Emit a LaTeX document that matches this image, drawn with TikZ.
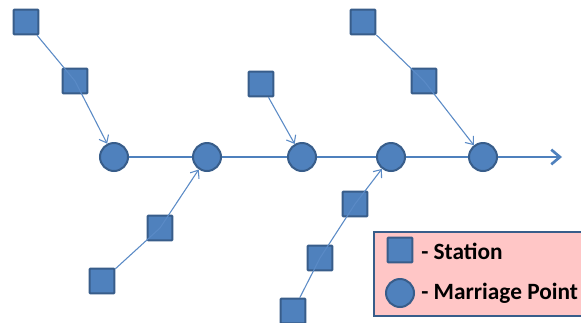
\documentclass[tikz,border=0pt]{standalone}
\usepackage{fontspec}
\setmainfont{Carlito}
\usetikzlibrary{arrows.meta}
\definecolor{bfill}{HTML}{4F81BD}
\definecolor{bdraw}{HTML}{385D8A}
\definecolor{conn}{HTML}{5A8AC6}
\definecolor{pinkfill}{HTML}{FFC6C6}
\tikzset{
  station/.style={draw=bdraw,fill=bfill,line width=1.5pt,minimum size=18.5pt,inner sep=0pt,rounded corners=0.6pt},
  mpoint/.style={circle,draw=bdraw,fill=bfill,line width=1.5pt,minimum size=21pt,inner sep=0pt},
  feed/.style={draw=conn,line width=0.8pt},
  feedarr/.style={feed,-{Straight Barb[length=5pt,width=8pt,line width=0.8pt]}},
  mainline/.style={draw=bfill,line width=2pt},
  legtext/.style={font=\bfseries\fontsize{17.5}{20}\selectfont,anchor=west,inner sep=0pt},
}
\begin{document}
\begin{tikzpicture}[x=0.75pt,y=-0.75pt]
\clip (0,0) rectangle (581,322);
\fill[white] (0,0) rectangle (581,322);
% main line
\coordinate (end) at (562,157);
% marriage points
\node[mpoint] (c1) at (114,157) {};
\node[mpoint] (c2) at (207,157) {};
\node[mpoint] (c3) at (302,157) {};
\node[mpoint] (c4) at (391,157) {};
\node[mpoint] (c5) at (483,157) {};
\draw[mainline] (c1) -- (c2);
\draw[mainline] (c2) -- (c3);
\draw[mainline] (c3) -- (c4);
\draw[mainline] (c4) -- (c5);
\draw[mainline,-{Straight Barb[length=6.5pt,width=11pt,line width=2pt]}] (c5) -- (end);
% stations
\node[station] (s1) at (26,22) {};
\node[station] (s2) at (75,81) {};
\node[station] (s3) at (160,228) {};
\node[station] (s4) at (102,281) {};
\node[station] (s5) at (261,84) {};
\node[station] (s6) at (355,204) {};
\node[station] (s7) at (320,258) {};
\node[station] (s8) at (293,311) {};
\node[station] (s9) at (363,22) {};
\node[station] (s10) at (424,81) {};
% feeders
\draw[feed] (s1) -- (s2.center);
\draw[feedarr] (s2.center) -- (c1);
\draw[feed] (s4) -- (s3.center);
\draw[feedarr] (s3.center) -- (c2);
\draw[feedarr] (s5) -- (c3);
\draw[feed] (s8) -- (s7.center);
\draw[feed] (s7.center) -- (s6.center);
\draw[feedarr] (s6.center) -- (c4);
\draw[feed] (s9) -- (s10.center);
\draw[feedarr] (s10.center) -- (c5);
% legend
\node[draw=bdraw,fill=pinkfill,line width=1.5pt,minimum width=220*0.75pt,minimum height=84*0.75pt,anchor=north west,inner sep=0pt] (leg) at (373,231) {};
\node[station] (ls) at (400,250) {};
\node[mpoint] (lc) at (400,293) {};
\node[legtext] (lt1) at (421,251) {- Station};
\node[legtext] (lt2) at (421,293) {- Marriage Point};
\end{tikzpicture}
\end{document}
